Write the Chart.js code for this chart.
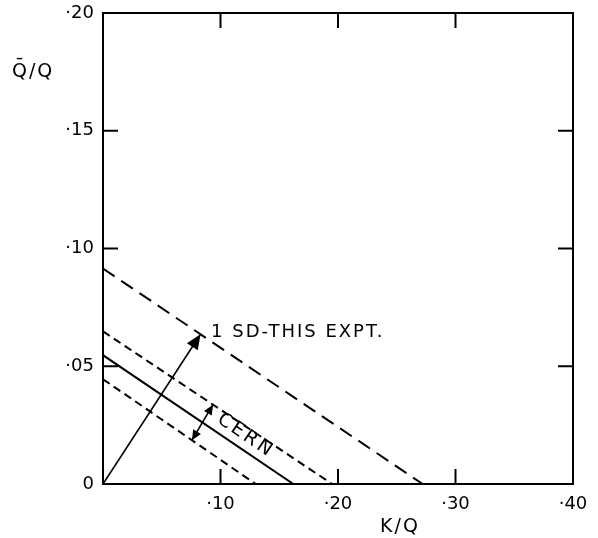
<!DOCTYPE html>
<html>
<head>
<meta charset="utf-8">
<script src="https://cdn.jsdelivr.net/npm/chart.js@4/dist/chart.umd.min.js"></script>
<style>
  html, body { margin: 0; padding: 0; background: #fff; }
  #wrap { width: 598px; height: 538px; }
</style>
</head>
<body>
<div id="wrap"><canvas id="c" width="598" height="538"></canvas></div>
<script>
// Axis ticks and their printed labels
const xTicks = [0.10, 0.20, 0.30, 0.40];
const xTickLabels = ['·10', '·20', '·30', '·40'];
const yTicks = [0, 0.05, 0.10, 0.15, 0.20];
const yTickLabels = ['0', '·05', '·10', '·15', '·20'];

// Limit lines in the (K/Q, Q̄/Q) plane: end points on the two axes
const thisExptLimit = [[0, 0.0915], [0.272, 0]];
const cernUpper     = [[0, 0.0648], [0.195, 0]];
const cernCentral   = [[0, 0.0547], [0.162, 0]];
const cernLower     = [[0, 0.0445], [0.130, 0]];

// Arrows: 1 SD of this experiment, and the CERN band width
const sdArrow   = [[0, 0], [0.083, 0.0636]];
const cernArrow = [[0.0757, 0.0186], [0.0936, 0.0337]];

const FONT = '"DejaVu Sans", sans-serif';
const pts = arr => arr.map(([x, y]) => ({ x, y }));

function lineSet(arr, dash, width) {
  return {
    data: pts(arr), borderColor: '#000', borderWidth: width,
    borderDash: dash, pointRadius: 0, fill: false, tension: 0
  };
}

// Inward tick marks on all four sides
const innerTicks = {
  id: 'innerTicks',
  afterDatasetsDraw(chart) {
    const { ctx, chartArea: a, scales } = chart;
    const L = 15;
    ctx.save();
    ctx.strokeStyle = '#000';
    ctx.lineWidth = 2;
    ctx.beginPath();
    xTicks.forEach(v => {
      if (v <= 0 || v >= 0.4) return;
      const px = scales.x.getPixelForValue(v);
      ctx.moveTo(px, a.bottom); ctx.lineTo(px, a.bottom - L);
      ctx.moveTo(px, a.top); ctx.lineTo(px, a.top + L);
    });
    yTicks.forEach(v => {
      if (v <= 0 || v >= 0.2) return;
      const py = scales.y.getPixelForValue(v);
      ctx.moveTo(a.left, py); ctx.lineTo(a.left + L, py);
      ctx.moveTo(a.right, py); ctx.lineTo(a.right - L, py);
    });
    ctx.stroke();
    ctx.restore();
  }
};

function arrowHead(ctx, x0, y0, x1, y1, len, half) {
  const ang = Math.atan2(y1 - y0, x1 - x0);
  ctx.beginPath();
  ctx.moveTo(x1, y1);
  ctx.lineTo(x1 - len * Math.cos(ang) + half * Math.sin(ang), y1 - len * Math.sin(ang) - half * Math.cos(ang));
  ctx.lineTo(x1 - len * Math.cos(ang) - half * Math.sin(ang), y1 - len * Math.sin(ang) + half * Math.cos(ang));
  ctx.closePath();
  ctx.fill();
}

// Arrow heads, in-plot labels and axis titles
const annotations = {
  id: 'annotations',
  afterDatasetsDraw(chart) {
    const { ctx, scales: { x, y } } = chart;
    const P = ([vx, vy]) => [x.getPixelForValue(vx), y.getPixelForValue(vy)];
    ctx.save();
    ctx.fillStyle = '#000';

    const [s0, s1] = [P(sdArrow[0]), P(sdArrow[1])];
    arrowHead(ctx, s0[0], s0[1], s1[0], s1[1], 15, 6.5);

    const [c0, c1] = [P(cernArrow[0]), P(cernArrow[1])];
    arrowHead(ctx, c0[0], c0[1], c1[0], c1[1], 10, 4.5);
    arrowHead(ctx, c1[0], c1[1], c0[0], c0[1], 10, 4.5);

    // "1 SD - THIS EXPT." beside the arrow tip
    ctx.font = '18px ' + FONT;
    ctx.textBaseline = 'alphabetic';
    ctx.textAlign = 'left';
    ctx.letterSpacing = '2px';
    const [tx, ty] = P([0.092, 0.0625]);
    ctx.fillText('1 SD-THIS EXPT.', tx, ty);

    // "CERN" along the central line
    const [a0, a1] = [P(cernCentral[0]), P(cernCentral[1])];
    const ang = Math.atan2(a1[1] - a0[1], a1[0] - a0[0]);
    const [cx, cy] = P([0.1215, 0.0205]);
    ctx.translate(cx, cy);
    ctx.rotate(ang);
    ctx.textAlign = 'center';
    ctx.textBaseline = 'middle';
    ctx.letterSpacing = '3px';
    ctx.font = '19px ' + FONT;
    ctx.fillText('CERN', 0, 0);
    ctx.setTransform(1, 0, 0, 1, 0, 0);

    // Axis titles
    ctx.letterSpacing = '2px';
    ctx.font = '19px ' + FONT;
    ctx.textAlign = 'left';
    ctx.textBaseline = 'middle';
    ctx.fillText('Q\u0304/Q', 12, 72);
    ctx.textAlign = 'center';
    ctx.fillText('K/Q', 400, 527);
    ctx.restore();
  }
};

new Chart(document.getElementById('c'), {
  type: 'line',
  data: {
    datasets: [
      lineSet(thisExptLimit, [14, 8], 2),
      lineSet(cernUpper, [8, 5], 2),
      lineSet(cernCentral, [], 2),
      lineSet(cernLower, [8, 5], 2),
      lineSet(sdArrow, [], 1.6),
      lineSet(cernArrow, [], 1.6)
    ]
  },
  options: {
    responsive: false,
    animation: false,
    events: [],
    layout: { padding: 0 },
    plugins: { legend: { display: false }, tooltip: { enabled: false } },
    scales: {
      x: {
        type: 'linear', position: 'bottom', min: 0, max: 0.4,
        afterBuildTicks: s => { s.ticks = xTicks.map(v => ({ value: v })); },
        afterFit: s => { s.height = 54; s.paddingLeft = 0; s.paddingRight = 0; },
        ticks: {
          color: '#000', padding: 10, maxRotation: 0, autoSkip: false,
          font: { family: FONT, size: 18 },
          callback: v => xTickLabels[xTicks.findIndex(t => Math.abs(t - v) < 1e-9)]
        },
        grid: { drawOnChartArea: false, drawTicks: false },
        border: { display: true, color: '#000', width: 2 }
      },
      xTop: {
        type: 'linear', position: 'top', min: 0, max: 0.4,
        afterFit: s => { s.height = 13; s.paddingLeft = 0; s.paddingRight = 0; },
        ticks: { display: false },
        grid: { drawOnChartArea: false, drawTicks: false },
        border: { display: true, color: '#000', width: 2 }
      },
      y: {
        type: 'linear', position: 'left', min: 0, max: 0.2,
        afterBuildTicks: s => { s.ticks = yTicks.map(v => ({ value: v })); },
        afterFit: s => { s.width = 103; s.paddingTop = 0; s.paddingBottom = 0; },
        ticks: {
          color: '#000', padding: 9, autoSkip: false,
          font: { family: FONT, size: 18 },
          callback: v => yTickLabels[yTicks.findIndex(t => Math.abs(t - v) < 1e-9)]
        },
        grid: { drawOnChartArea: false, drawTicks: false },
        border: { display: true, color: '#000', width: 2 }
      },
      yRight: {
        type: 'linear', position: 'right', min: 0, max: 0.2,
        afterFit: s => { s.width = 25; s.paddingTop = 0; s.paddingBottom = 0; },
        ticks: { display: false },
        grid: { drawOnChartArea: false, drawTicks: false },
        border: { display: true, color: '#000', width: 2 }
      }
    }
  },
  plugins: [innerTicks, annotations]
});
</script>
</body>
</html>
